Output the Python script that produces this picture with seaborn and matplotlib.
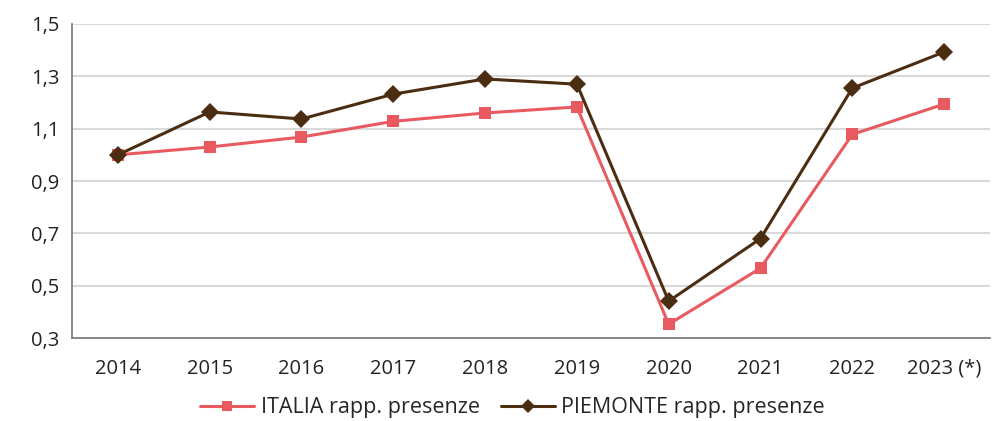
import numpy as np
import pandas as pd
import matplotlib
matplotlib.use("Agg")
import matplotlib.pyplot as plt
import seaborn as sns
from matplotlib.ticker import FuncFormatter

years = ["2014", "2015", "2016", "2017", "2018", "2019", "2020", "2021", "2022", "2023 (*)"]
italia = [1.00, 1.03, 1.068, 1.128, 1.16, 1.183, 0.353, 0.567, 1.078, 1.194]
piemonte = [1.00, 1.164, 1.137, 1.232, 1.29, 1.27, 0.441, 0.68, 1.255, 1.393]

sns.set_style("white")
plt.rcParams["font.family"] = ["Open Sans", "DejaVu Sans"]

df = pd.DataFrame({
    "idx": list(range(len(years))) * 2,
    "val": italia + piemonte,
    "serie": ["ITALIA rapp. presenze"] * len(years) + ["PIEMONTE rapp. presenze"] * len(years),
})

fig = plt.figure(figsize=(9.94, 4.21), dpi=100)
ax = fig.add_axes([0.0724, 0.197, 0.9236, 0.746])

sns.lineplot(data=df[df.serie == "ITALIA rapp. presenze"], x="idx", y="val", ax=ax,
             color="#E95A60", marker="s", markersize=9, markeredgewidth=0, linewidth=2.2,
             label="ITALIA rapp. presenze", sort=False)
sns.lineplot(data=df[df.serie == "PIEMONTE rapp. presenze"], x="idx", y="val", ax=ax,
             color="#4B2D12", marker="D", markersize=9, markeredgewidth=0, linewidth=2.2,
             label="PIEMONTE rapp. presenze", sort=False)

ax.set_xlim(-0.5, len(years) - 0.5)
ax.set_ylim(0.3, 1.5)
ax.set_yticks(np.arange(0.3, 1.51, 0.2))
ax.yaxis.set_major_formatter(FuncFormatter(lambda v, p: f"{v:.1f}".replace(".", ",")))
ax.set_xticks(range(len(years)))
ax.set_xticklabels(years)
ax.set_xticks(np.arange(-0.5, len(years), 1.0), minor=True)
ax.tick_params(axis="x", which="major", length=0, labelsize=14.5, colors="#222222", pad=15)
ax.tick_params(axis="x", which="minor", length=6, color="#777777", direction="out")
ax.tick_params(axis="y", length=5, color="#777777", labelsize=14.5, colors="#222222", direction="out", pad=4)
ax.grid(axis="y", color="#D9D9D9", linewidth=1.5)
ax.set_axisbelow(True)
ax.set_xlabel("")
ax.set_ylabel("")
for s in ["top", "right"]:
    ax.spines[s].set_visible(False)
for s in ["left", "bottom"]:
    ax.spines[s].set_color("#777777")
    ax.spines[s].set_linewidth(1.2)

leg = ax.legend(loc="center", bbox_to_anchor=(0.48, -0.222), ncol=2, frameon=False,
                fontsize=15.5, handlelength=2.5, columnspacing=1.0, handletextpad=0.3,
                borderpad=0, markerscale=0.8)

fig.savefig("out.png", dpi=100)
